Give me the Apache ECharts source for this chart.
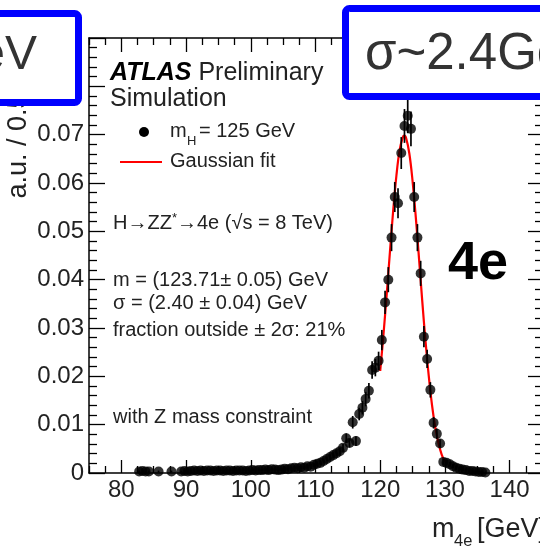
<!DOCTYPE html>
<html>
<head>
<meta charset="utf-8">
<script src="https://cdn.jsdelivr.net/npm/echarts@6/dist/echarts.min.js"></script>
<style>
  html, body { margin: 0; padding: 0; background: #fff; }
  #chart { width: 540px; height: 547px; }
</style>
</head>
<body>
<div id="chart"></div>
<script>
// Four-electron invariant mass, 0.5 GeV bins (bin centres in GeV)
const massBins = [
  82.75, 83.25, 83.75, 84.25, 85.75, 87.75,
  89.25, 89.75, 90.25, 90.75, 91.25, 91.75, 92.25, 92.75, 93.25, 93.75,
  94.25, 94.75, 95.25, 95.75, 96.25, 96.75, 97.25, 97.75, 98.25, 98.75,
  99.25, 99.75, 100.25, 100.75, 101.25, 101.75, 102.25, 102.75, 103.25, 103.75,
  104.25, 104.75, 105.25, 105.75, 106.25, 106.75, 107.25, 107.75, 108.25, 108.75,
  109.25, 109.75, 110.25, 110.75, 111.25, 111.75, 112.25, 112.75, 113.25, 113.75,
  114.25, 114.75, 115.25, 115.75, 116.25, 116.75, 117.25, 117.75, 118.25, 118.75,
  119.25, 119.75, 120.25, 120.75, 121.25, 121.75, 122.25, 122.75, 123.25, 123.75,
  124.25, 124.75, 125.25, 125.75, 126.25, 126.75, 127.25, 127.75, 128.25, 128.75,
  129.25, 129.75, 130.25, 130.75, 131.25, 131.75, 132.25, 132.75, 133.25, 133.75,
  134.25, 134.75, 135.25, 135.75, 136.25
];

// Normalised content per bin (a.u.)
const density = [
  0.0003, 0.0004, 0.0003, 0.0003, 0.0003, 0.0003,
  0.0003, 0.0004, 0.0003, 0.0004, 0.0005, 0.0004, 0.0005, 0.0004, 0.0005, 0.0005,
  0.0004, 0.0005, 0.0005, 0.0004, 0.0005, 0.0005, 0.0004, 0.0005, 0.0005, 0.0005,
  0.0004, 0.0005, 0.0006, 0.0005, 0.0006, 0.0006, 0.0007, 0.0006, 0.0008, 0.0007,
  0.0006, 0.0007, 0.0009, 0.0008, 0.0010, 0.0011, 0.0010, 0.0012, 0.0011, 0.0014,
  0.0013, 0.0017, 0.0019, 0.0021, 0.0025, 0.0029, 0.0033, 0.0037, 0.0041, 0.0045,
  0.0052, 0.0072, 0.0062, 0.0105, 0.0066, 0.0122, 0.0135, 0.0153, 0.0170, 0.0213,
  0.0218, 0.0232, 0.0275, 0.0353, 0.0400, 0.0487, 0.0571, 0.0558, 0.0662, 0.0718,
  0.0739, 0.0712, 0.0571, 0.0487, 0.0413, 0.0282, 0.0236, 0.0172, 0.0104, 0.0081,
  0.0061, 0.0023, 0.0021, 0.0018, 0.0014, 0.0011, 0.0009, 0.0007, 0.0006, 0.0004,
  0.0004, 0.0003, 0.0002, 0.0002, 0.0001
];

// Statistical uncertainty per bin (a.u.)
const densityErr = [
  0.0002, 0.0002, 0.0002, 0.0002, 0.0002, 0.0002,
  0.0002, 0.0002, 0.0002, 0.0002, 0.0002, 0.0002, 0.0002, 0.0002, 0.0002, 0.0002,
  0.0002, 0.0002, 0.0002, 0.0002, 0.0002, 0.0002, 0.0002, 0.0002, 0.0002, 0.0002,
  0.0002, 0.0002, 0.0002, 0.0002, 0.0002, 0.0002, 0.0002, 0.0002, 0.0002, 0.0002,
  0.0002, 0.0002, 0.0003, 0.0003, 0.0003, 0.0003, 0.0003, 0.0003, 0.0003, 0.0004,
  0.0004, 0.0004, 0.0004, 0.0005, 0.0005, 0.0005, 0.0006, 0.0006, 0.0006, 0.0007,
  0.0008, 0.0010, 0.0009, 0.0013, 0.0010, 0.0013, 0.0014, 0.0015, 0.0016, 0.0018,
  0.0018, 0.0019, 0.0021, 0.0024, 0.0026, 0.0028, 0.0031, 0.0031, 0.0033, 0.0035,
  0.0036, 0.0036, 0.0031, 0.0028, 0.0026, 0.0022, 0.0019, 0.0016, 0.0012, 0.0011,
  0.0009, 0.0006, 0.0005, 0.0005, 0.0004, 0.0004, 0.0003, 0.0003, 0.0003, 0.0002,
  0.0002, 0.0002, 0.0002, 0.0002, 0.0002
];

// Gaussian fit curve sampled over the fit range
const fitMass = [120.0, 120.5, 121.0, 121.5, 122.0, 122.5, 123.0, 123.5, 123.71, 124.0,
                 124.5, 125.0, 125.5, 126.0, 126.5, 127.0, 127.5, 128.0, 128.5, 129.0,
                 129.5, 130.0];
const fitDensity = [0.0211, 0.0286, 0.0369, 0.0457, 0.0542, 0.0615, 0.0668, 0.0695, 0.0698, 0.0693,
                    0.0661, 0.0604, 0.0529, 0.0443, 0.0355, 0.0273, 0.0201, 0.0141, 0.0095, 0.0062,
                    0.0038, 0.0023];

// Axis ticks
const xMajorTicks = [80, 90, 100, 110, 120, 130, 140];
const xMinorStep = 2.5;
const xRange = [75, 145];
const yRange = [0, 0.09];
const yStep = 0.01;
const yLastLabel = 0.07;

const xMinorTicks = [];
for (let v = xRange[0]; v <= xRange[1] + 1e-9; v += xMinorStep) {
  if (xMajorTicks.indexOf(v) < 0) xMinorTicks.push(v);
}

const FONT = '"Liberation Sans", Arial, Helvetica, sans-serif';
const INK = '#222';

const points = massBins.map((m, i) => [m, density[i]]);
const errBars = massBins.map((m, i) => [m, density[i] - densityErr[i], density[i] + densityErr[i]]);
const fitCurve = fitMass.map((m, i) => [m, fitDensity[i]]);

function xAxisDef(position, ticks, len, withLine, withLabels) {
  return {
    type: 'value', position: position, min: xRange[0], max: xRange[1],
    splitLine: { show: false },
    axisLine: { show: withLine, onZero: false, lineStyle: { color: '#000', width: 1.5 } },
    axisTick: { show: true, inside: true, length: len, customValues: ticks,
                lineStyle: { color: '#000', width: 1.3 } },
    axisLabel: withLabels
      ? { show: true, customValues: xMajorTicks, fontFamily: FONT, fontSize: 24, color: INK, margin: 5 }
      : { show: false }
  };
}

function yAxisDef(position, withLabels, majorLen, minorLen) {
  return {
    type: 'value', position: position, min: yRange[0], max: yRange[1], interval: yStep,
    splitLine: { show: false },
    axisLine: { show: true, onZero: false, lineStyle: { color: '#000', width: 1.5 } },
    axisTick: { show: true, inside: true, length: majorLen, lineStyle: { color: '#000', width: 1.3 } },
    minorTick: { show: true, splitNumber: 5, length: minorLen, lineStyle: { color: '#000', width: 1.3 } },
    minorSplitLine: { show: false },
    axisLabel: withLabels ? {
      show: true, fontFamily: FONT, fontSize: 24, color: INK, margin: 5,
      formatter: function (v) {
        if (v > yLastLabel + 1e-9) return '';
        return v === 0 ? '0' : v.toFixed(2);
      }
    } : { show: false }
  };
}

function txt(x, y, text, size, extra) {
  return {
    type: 'text', x: x, y: y, z: 50,
    style: Object.assign({ text: text, fontFamily: FONT, fontSize: size, fill: INK,
                           align: 'left', verticalAlign: 'middle' }, extra || {})
  };
}

const chart = echarts.init(document.getElementById('chart'), null, { renderer: 'canvas' });

chart.setOption({
  backgroundColor: '#fff',
  animation: false,
  grid: { left: 89, top: 38, width: 453, height: 435, outerBoundsMode: 'none', containLabel: false },
  xAxis: [
    xAxisDef('bottom', xMajorTicks, 13, true, true),
    xAxisDef('bottom', xMinorTicks, 7, false, false),
    xAxisDef('top', xMajorTicks, 14, true, false),
    xAxisDef('top', xMinorTicks, 7, false, false)
  ],
  yAxis: [
    yAxisDef('left', true, 16, 8),
    yAxisDef('right', false, 14, 7)
  ],
  series: [
    {
      name: 'Gaussian fit', type: 'line', data: fitCurve, smooth: 0.4,
      symbol: 'none', clip: false, z: 2,
      lineStyle: { color: '#ff0000', width: 2.2 }
    },
    {
      name: 'errors', type: 'custom', data: errBars, z: 3,
      encode: { x: 0, y: [1, 2] },
      renderItem: function (params, api) {
        const top = api.coord([api.value(0), api.value(2)]);
        const bot = api.coord([api.value(0), api.value(1)]);
        return {
          type: 'line',
          shape: { x1: top[0], y1: top[1], x2: bot[0], y2: bot[1] },
          style: { stroke: '#000', lineWidth: 1.7 }
        };
      }
    },
    {
      name: 'mH = 125 GeV', type: 'scatter', data: points, z: 4, clip: false,
      symbol: 'circle', symbolSize: 10,
      itemStyle: { color: '#000' }
    }
  ],
  graphic: [
    // axis titles
    { type: 'text', x: 18.5, y: 32, rotation: Math.PI / 2, z: 50,
      style: { text: 'a.u. / 0.5 GeV', fontFamily: FONT, fontSize: 27, fill: INK,
               align: 'right', verticalAlign: 'middle' } },
    txt(432, 530, 'm', 27),
    txt(454, 541, '4e', 16.5),
    txt(477, 530, '[GeV]', 27),

    // ATLAS label
    { type: 'text', x: 110, y: 73, z: 50,
      style: { text: '{a|ATLAS} {b|Preliminary}', fontFamily: FONT, fontSize: 25, fill: INK,
               verticalAlign: 'middle',
               rich: {
                 a: { fontFamily: FONT, fontSize: 25, fontWeight: 'bold', fontStyle: 'italic', fill: '#000' },
                 b: { fontFamily: FONT, fontSize: 25, fill: INK }
               } } },
    txt(110, 99, 'Simulation', 25),

    // legend
    { type: 'circle', z: 50, shape: { cx: 144, cy: 132, r: 5 }, style: { fill: '#000' } },
    txt(170, 131.5, 'm', 20),
    txt(187, 141, 'H', 13),
    txt(199, 131.5, '= 125 GeV', 20),
    { type: 'line', z: 50, shape: { x1: 120, y1: 162, x2: 162, y2: 162 },
      style: { stroke: '#ff0000', lineWidth: 2.2 } },
    txt(170, 161.5, 'Gaussian fit', 20),

    // process and fit results
    { type: 'text', x: 113, y: 223, z: 50,
      style: { text: '{n|H\u2192ZZ}{p|*}{n|\u21924e (\u221As = 8 TeV)}', fontFamily: FONT, fontSize: 20,
               fill: INK, verticalAlign: 'middle',
               rich: {
                 n: { fontFamily: FONT, fontSize: 20, fill: INK, lineHeight: 22, verticalAlign: 'middle' },
                 p: { fontFamily: FONT, fontSize: 13, fill: INK, lineHeight: 22, verticalAlign: 'top', padding: [0, 0, 8, 0] }
               } } },
    txt(113, 280, 'm = (123.71\u00B1 0.05) GeV', 20),
    txt(113, 303, '\u03C3 = (2.40 \u00B1 0.04) GeV', 20),
    txt(113, 330, 'fraction outside \u00B1 2\u03C3: 21%', 20),
    txt(113, 417, 'with Z mass constraint', 20),

    // channel tag
    { type: 'text', x: 478, y: 264, z: 50,
      style: { text: '4e', fontFamily: FONT, fontSize: 54, fontWeight: 'bold', fill: '#000',
               align: 'center', verticalAlign: 'middle' } },

    // highlighted call-out boxes
    { type: 'rect', z: 100, shape: { x: -100, y: 13.5, width: 178.5, height: 89, r: 4 },
      style: { fill: '#fff', stroke: '#0000ff', lineWidth: 7 } },
    { type: 'text', x: 37, y: 56, z: 101,
      style: { text: 'GeV', fontFamily: FONT, fontSize: 48, fill: '#333',
               align: 'right', verticalAlign: 'middle' } },
    { type: 'rect', z: 100, shape: { x: 345.5, y: 8.5, width: 260, height: 88, r: 4 },
      style: { fill: '#fff', stroke: '#0000ff', lineWidth: 7 } },
    { type: 'text', x: 365, y: 55, z: 101,
      style: { text: '\u03C3~2.4GeV', fontFamily: FONT, fontSize: 51, fill: '#333',
               align: 'left', verticalAlign: 'middle' } }
  ]
});
</script>
</body>
</html>
